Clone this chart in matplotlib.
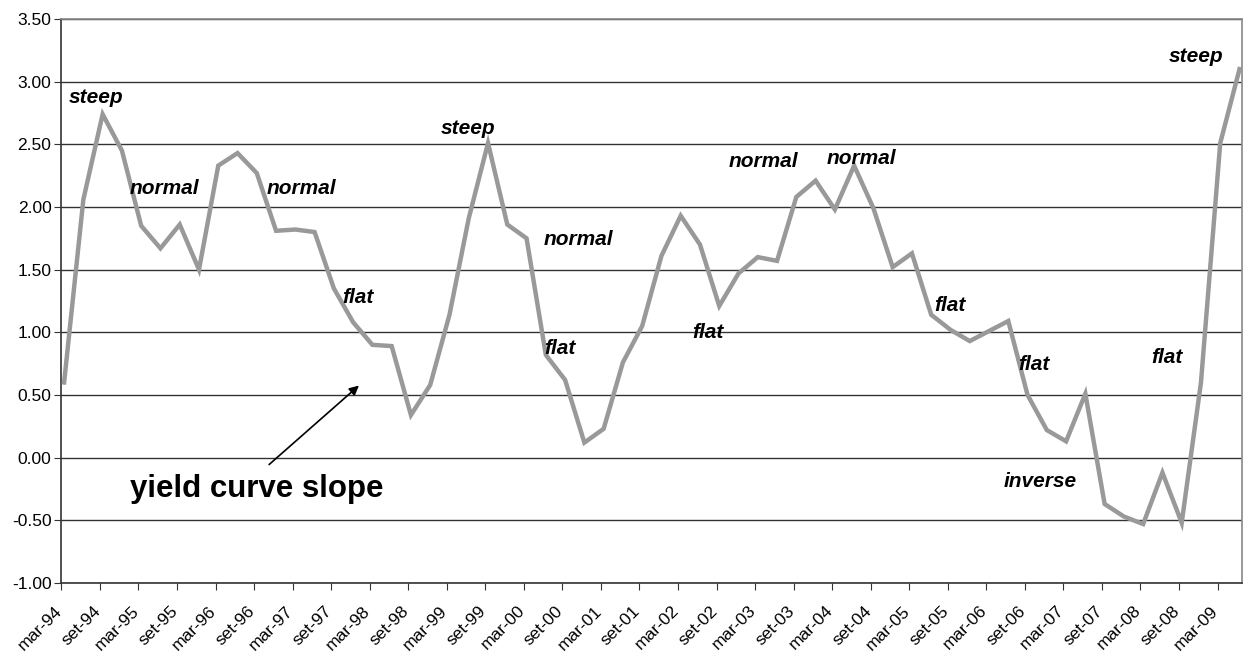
import matplotlib
matplotlib.use("Agg")
from matplotlib import pyplot as plt
from matplotlib import transforms
import numpy as np

plt.rcParams['font.family'] = ['Liberation Sans', 'DejaVu Sans']

# quarterly yield curve slope, mar-94 .. jun-09
slope = [0.60, 2.06, 2.74, 2.45, 1.85, 1.67, 1.86, 1.50, 2.33, 2.43,
         2.27, 1.81, 1.82, 1.80, 1.35, 1.08, 0.90, 0.89, 0.34, 0.58,
         1.14, 1.91, 2.51, 1.86, 1.75, 0.82, 0.62, 0.12, 0.23, 0.76,
         1.05, 1.61, 1.93, 1.70, 1.21, 1.47, 1.60, 1.57, 2.08, 2.21,
         1.98, 2.33, 1.99, 1.52, 1.63, 1.14, 1.02, 0.93, 1.01, 1.09,
         0.50, 0.22, 0.13, 0.51, -0.37, -0.47, -0.53, -0.12, -0.52, 0.60,
         2.51, 3.10]

tick_labels = []
for yr in range(94, 110):
    tick_labels.append("mar-%02d" % (yr % 100))
    if yr < 109:
        tick_labels.append("set-%02d" % (yr % 100))

# regime labels: (text, x index, y value)
regimes = [("steep", 1.66, 2.87), ("normal", 5.19, 2.15), ("normal", 12.30, 2.15),
           ("flat", 15.26, 1.28), ("steep", 20.97, 2.63), ("normal", 26.67, 1.74),
           ("flat", 25.74, 0.87), ("flat", 33.42, 1.00), ("normal", 36.27, 2.36),
           ("normal", 41.36, 2.39), ("flat", 45.98, 1.21), ("flat", 50.34, 0.74),
           ("inverse", 50.65, -0.19), ("flat", 57.24, 0.80), ("steep", 58.74, 3.20)]

fig = plt.figure(figsize=(12.47, 6.55), dpi=100)
ax = fig.add_axes([0.049, 0.110, 0.947, 0.861])

x = np.arange(len(slope))
ax.plot(x, slope, color="#999999", lw=3.2, solid_joinstyle="miter", zorder=3)

ax.set_ylim(-1.0, 3.5)
ax.set_yticks(np.arange(-1.0, 3.51, 0.5))
ax.set_yticklabels(["%.2f" % v for v in np.arange(-1.0, 3.51, 0.5)], fontsize=12.5)
ax.yaxis.grid(True, color="#333333", lw=1.0)
ax.set_axisbelow(True)

ax.set_xlim(-0.156, 61.13)
ax.set_xticks(np.arange(0, 61, 2) - 0.14)
ax.set_xticklabels(tick_labels, rotation=45, ha="right", rotation_mode="anchor", fontsize=12.5)
ax.tick_params(axis="x", length=5, color="#333333", pad=3)
ax.tick_params(axis="y", length=5, color="#333333", pad=2)

# shift the slanted labels a bit left and down
shift = transforms.ScaledTranslation(-0.07, -0.09, fig.dpi_scale_trans)
for lab in ax.get_xticklabels():
    lab.set_transform(lab.get_transform() + shift)

ax.spines["left"].set_color("#333333")
ax.spines["bottom"].set_color("#333333")
ax.spines["top"].set_color("#888888")
ax.spines["right"].set_color("#888888")
for s in ax.spines.values():
    s.set_linewidth(1.2)

for txt, tx, ty in regimes:
    ax.text(tx, ty, txt, fontsize=15, fontweight="bold", style="italic",
            ha="center", va="center", zorder=4)

ax.text(10.02, -0.25, "yield curve slope", fontsize=22.5, fontweight="bold",
        ha="center", va="center")
ax.annotate("", xy=(15.41, 0.59), xytext=(10.53, -0.07),
            arrowprops=dict(arrowstyle="-|>", color="black", lw=1.2, mutation_scale=14))

fig.savefig("out.png", dpi=100)
